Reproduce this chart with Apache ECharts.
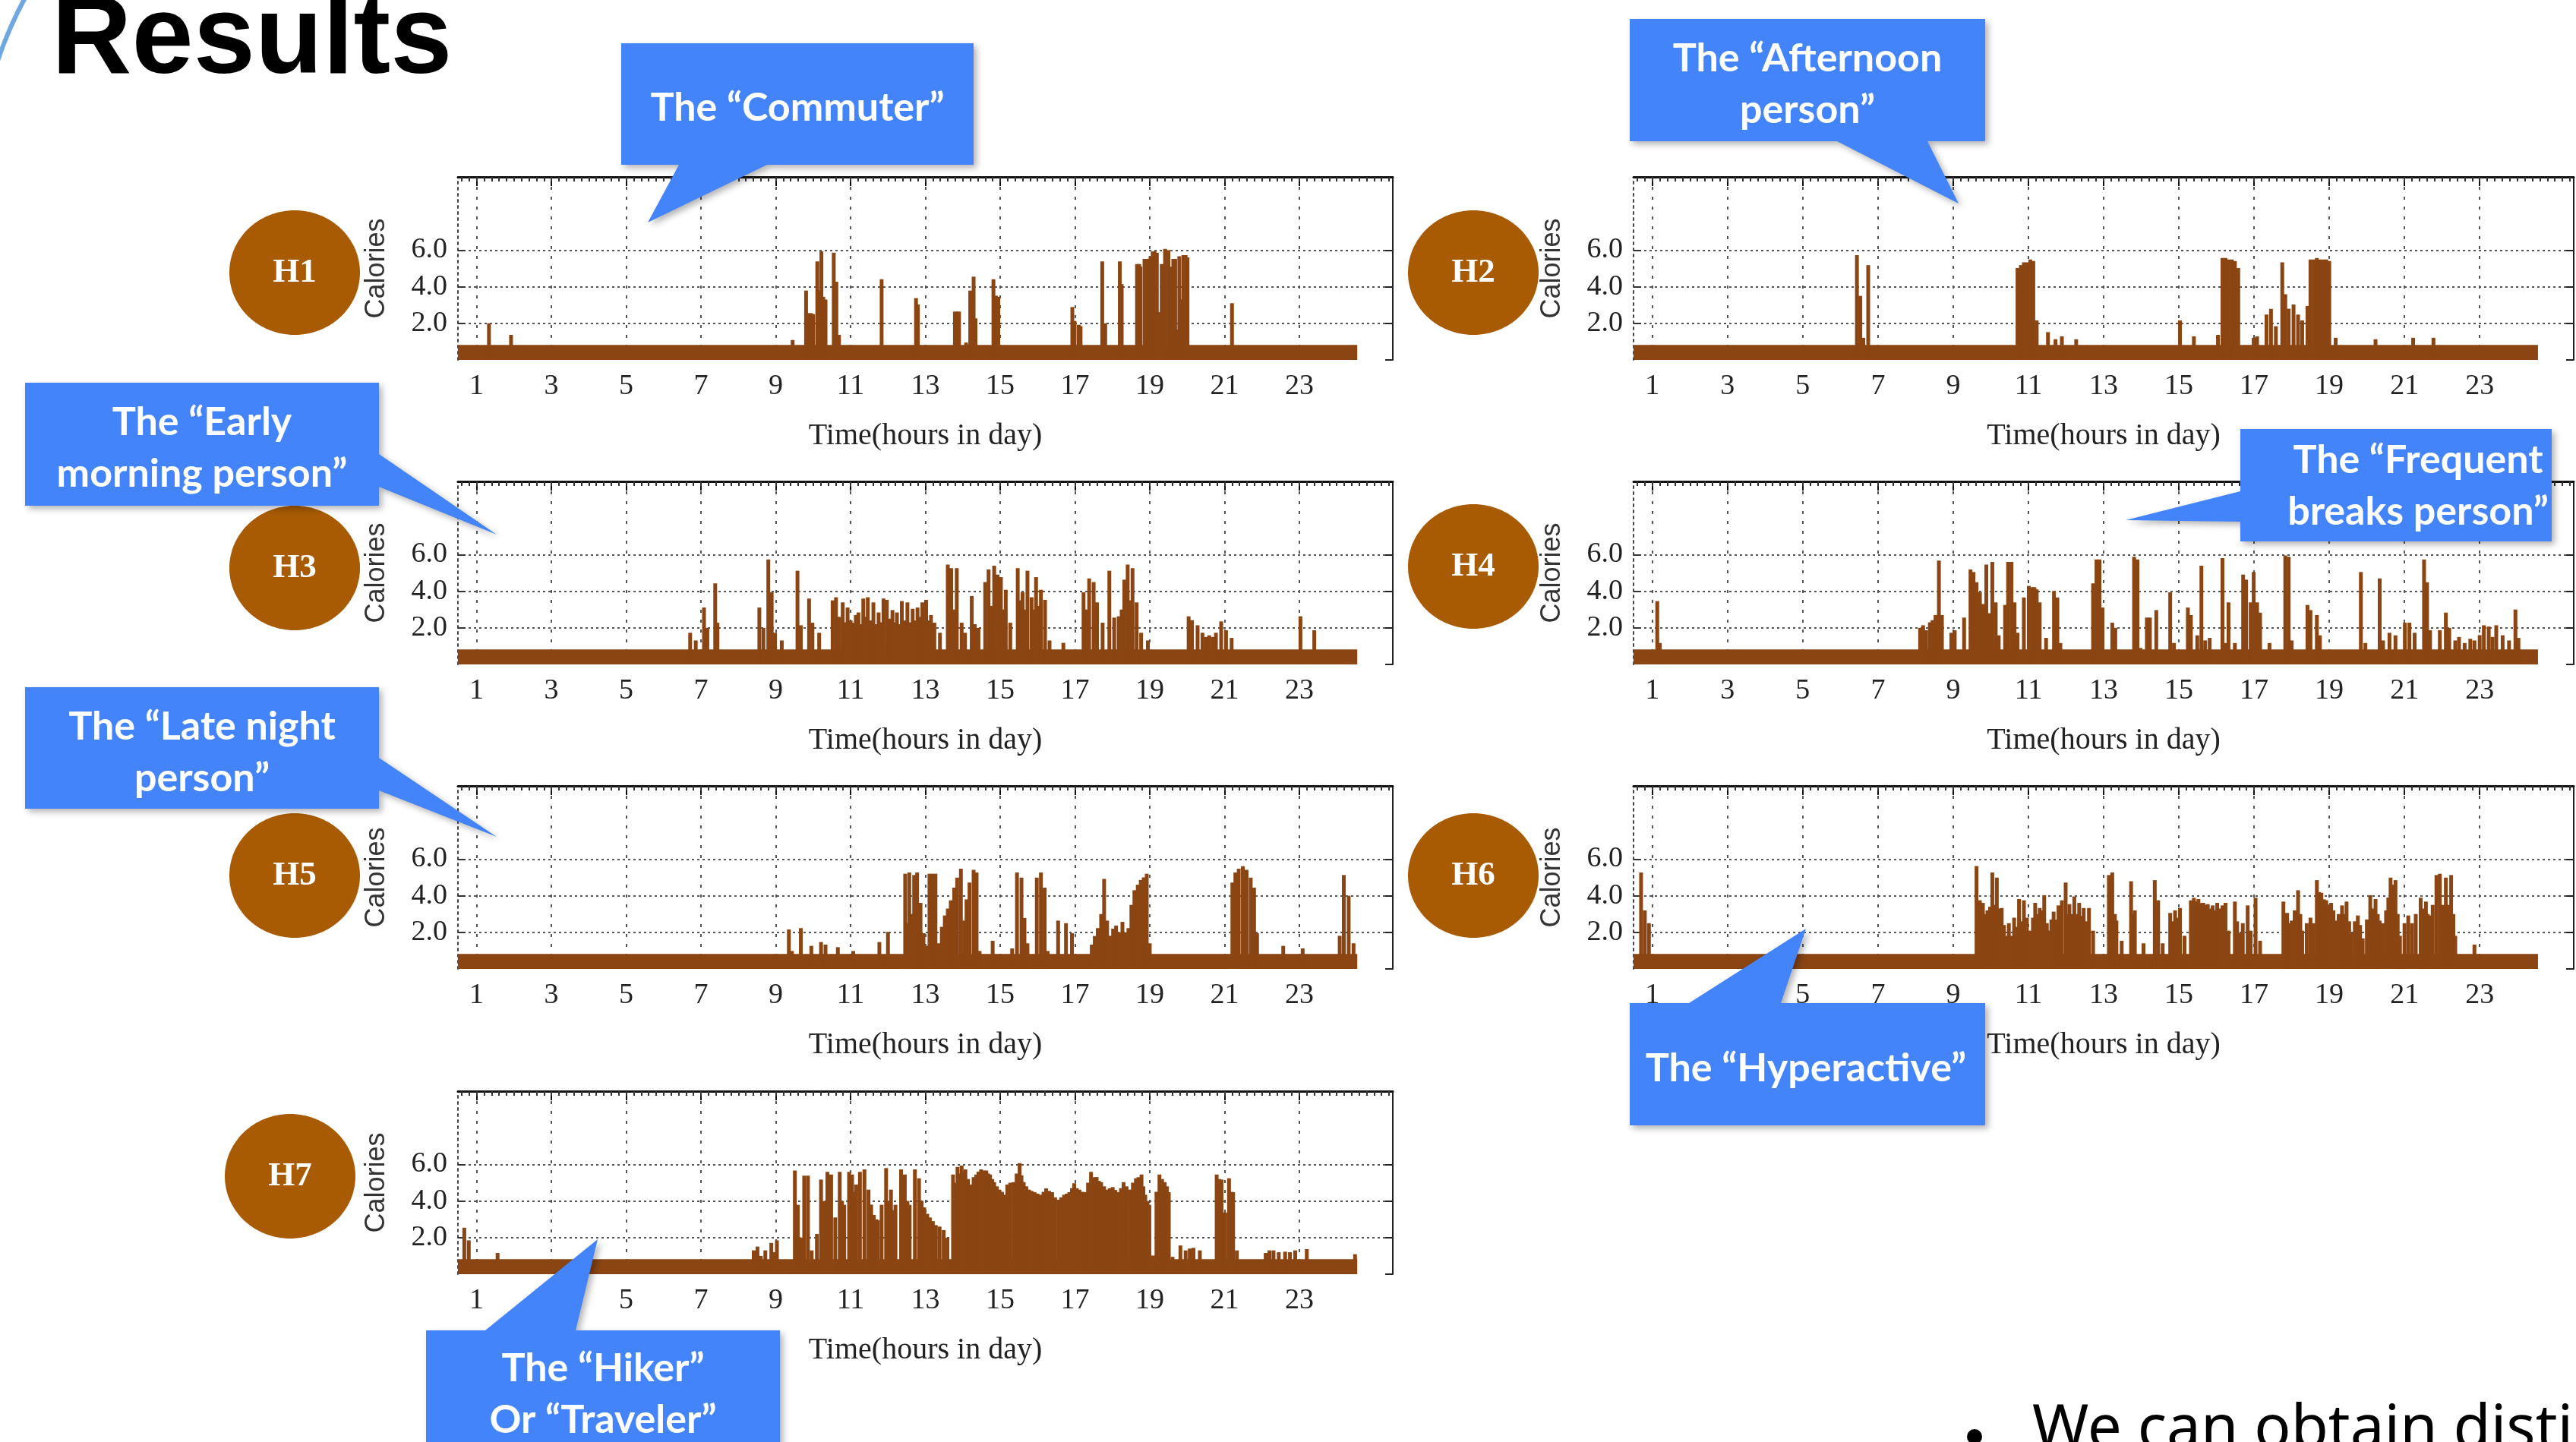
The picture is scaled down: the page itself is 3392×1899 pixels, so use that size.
<!DOCTYPE html>
<html><head><meta charset="utf-8">
<script src="https://cdn.jsdelivr.net/npm/echarts@6/dist/echarts.min.js"></script>
<style>html,body{margin:0;padding:0;background:#fff}#c{width:3392px;height:1899px}</style>
</head><body><div id="c"></div>
<script>
// ---------- data ----------
const hourTicks = [1,3,5,7,9,11,13,15,17,19,21,23];
const calTicks = [2,4,6];
const rightTicks = [0,2,4,6];
const baseLevel = 0.82;
const dayStart = 0.5, dayEnd = 24.55;
const panelNames = ['H1','H2','H3','H4','H5','H6','H7'];
const xTitle = 'Time(hours in day)';
const yTitle = 'Calories';

const h1Data = [[1.33,2.0],[1.92,1.37],[9.45,1.09],
[9.81,3.79],[9.85,2.55],[9.9,2.55],[9.95,2.55],[10.0,2.5],
[10.11,5.38],[10.16,3.8],[10.22,5.93],[10.27,3.45],[10.33,3.3],
[10.55,5.86],[10.62,4.27],[10.69,1.37],[11.83,4.41],[12.75,3.38],[12.8,3.03],
[13.79,2.64],[13.85,2.64],[13.9,2.64],[14.09,0.95],[14.2,3.79],[14.29,4.55],[14.34,2.27],
[14.82,4.41],[14.89,3.51],[14.95,3.45],[16.93,2.89],[16.99,2.13],[17.1,1.92],[17.15,1.85],
[17.73,5.38],[17.81,2.0],[18.2,5.38],[18.25,4.14],[18.66,5.24],[18.72,5.24],[18.75,5.1],
[18.86,5.52],[18.94,5.52],[19.02,5.66],[19.08,5.93],[19.13,5.93],[19.19,5.86],[19.24,2.61],
[19.32,5.24],[19.41,6.07],[19.5,6.0],[19.57,5.1],[19.63,5.52],[19.68,5.52],[19.74,1.65],
[19.79,5.66],[19.85,3.31],[19.9,5.73],[19.96,5.73],[20.01,5.6],[21.2,3.1]];

const h2Data = [[6.44,5.73],[6.53,3.5],[6.61,1.21],[6.74,5.18],
[10.71,5.02],[10.8,5.18],[10.88,5.33],[10.96,5.33],[11.05,5.49],[11.13,5.4],[11.22,2.16],
[11.52,1.52],[11.72,1.13],[11.89,1.29],[12.27,1.13],[15.03,2.16],[15.4,1.29],
[16.04,1.37],[16.16,5.57],[16.24,5.57],[16.32,5.49],[16.41,5.49],[16.49,5.4],[16.58,5.02],
[16.99,1.21],[17.08,1.29],[17.33,2.48],[17.45,2.79],[17.58,1.84],[17.75,5.33],[17.83,3.59],
[17.92,2.8],[18.05,3.03],[18.17,2.48],[18.28,2.16],[18.42,2.95],
[18.5,5.49],[18.59,5.49],[18.67,5.57],[18.75,5.49],[18.84,5.49],[18.92,5.49],[19.0,5.4],
[19.17,1.21],[20.23,1.13],[21.23,1.21],[21.77,1.21]];

const h3Data = [[6.71,1.73],[6.86,1.31],[7.08,3.11],[7.17,2.0],[7.38,4.43],[7.44,2.28],
[8.56,3.11],[8.67,2.0],[8.8,5.74],[8.89,3.94],[8.98,1.73],[9.16,1.31],
[9.58,5.12],[9.67,2.14],[9.89,3.6],[9.98,2.28],[10.16,1.73],
[10.52,3.5],[10.61,3.67],[10.7,2.6],[10.79,3.39],[10.86,2.3],[10.92,3.11],[11.0,2.4],[11.07,2.28],
[11.14,2.7],[11.21,2.84],[11.28,2.2],[11.34,3.6],[11.4,2.6],[11.46,3.67],[11.54,2.4],[11.61,3.39],
[11.68,2.2],[11.75,2.84],[11.82,2.3],[11.88,3.6],[11.97,3.53],[12.04,2.5],[12.12,2.97],[12.18,2.3],
[12.24,2.84],[12.3,2.2],[12.37,3.46],[12.44,2.4],[12.52,3.39],[12.59,2.3],[12.66,3.04],[12.72,2.4],
[12.79,3.11],[12.86,2.6],[12.92,3.39],[13.02,3.53],[13.09,2.4],[13.15,2.7],[13.24,2.28],[13.39,1.73],
[13.6,5.46],[13.69,5.26],[13.76,3.0],[13.84,5.26],[13.97,2.28],[14.06,1.73],
[14.24,3.74],[14.32,2.2],[14.42,2.0],[14.6,4.5],[14.69,5.19],[14.76,3.2],[14.84,5.39],[14.93,4.91],
[15.02,4.77],[15.08,3.0],[15.15,4.08],[15.27,2.28],[15.47,5.26],[15.54,3.5],[15.6,3.94],[15.66,3.0],
[15.73,5.12],[15.84,3.67],[15.9,3.0],[15.96,4.77],[16.03,3.2],[16.09,4.08],[16.2,3.53],[16.32,1.31],
[16.69,1.18],[17.23,3.94],[17.3,3.0],[17.38,4.7],[17.5,4.5],[17.59,3.39],[17.74,2.28],[17.92,5.12],
[18.05,2.56],[18.17,2.63],[18.25,3.0],[18.32,4.63],[18.41,5.46],[18.48,3.5],[18.54,5.26],[18.65,3.39],
[18.77,1.73],[18.95,1.31],[20.04,2.63],[20.13,2.42],[20.28,2.14],[20.41,1.73],[20.5,1.5],[20.59,1.59],
[20.68,1.5],[20.77,1.73],[20.91,2.35],[21.04,1.87],[21.19,1.45],[23.03,2.63],[23.4,1.87]];

const h4Data = [[1.13,3.46],[1.2,1.17],
[8.12,2.0],[8.2,2.14],[8.28,1.87],[8.38,2.3],[8.45,2.42],[8.53,2.7],[8.62,5.67],[8.7,2.7],[8.95,1.73],
[9.04,1.87],[9.29,2.56],[9.46,5.19],[9.54,5.05],[9.62,4.49],[9.71,3.94],[9.79,3.3],[9.88,5.46],[9.96,2.8],
[10.04,5.6],[10.13,3.39],[10.21,1.59],[10.38,3.25],[10.46,5.6],[10.55,5.6],[10.63,3.39],[10.71,1.73],
[10.88,3.66],[11.01,4.29],[11.1,4.22],[11.16,4.22],[11.22,4.1],[11.3,3.39],[11.47,1.45],[11.68,4.01],
[11.77,3.66],[11.85,1.17],[12.72,4.43],[12.81,5.74],[12.89,5.74],[12.97,3.11],[13.23,2.28],[13.31,2.0],
[13.81,5.88],[13.9,5.74],[13.98,0.9],[14.15,2.56],[14.23,2.56],[14.4,2.97],[14.77,3.94],[14.87,1.17],
[15.24,3.11],[15.32,2.7],[15.49,1.59],[15.6,5.39],[15.7,1.31],[15.82,1.45],
[16.16,5.81],[16.24,1.17],[16.32,3.39],[16.49,1.17],[16.71,4.91],[16.79,4.63],[16.91,3.39],[16.99,5.05],
[17.08,3.39],[17.16,2.83],[17.41,1.17],[17.83,5.95],[17.92,5.88],[18.0,1.31],[18.42,3.25],[18.5,2.97],
[18.67,2.7],[18.75,1.59],[19.84,5.05],[19.96,1.17],[20.34,4.7],[20.43,1.31],[20.6,1.73],[20.76,1.59],
[21.01,2.28],[21.13,2.28],[21.27,1.73],[21.52,5.74],[21.6,4.49],[21.68,1.87],[21.94,1.87],[22.1,2.83],
[22.19,2.0],[22.35,1.31],[22.45,1.5],[22.6,1.17],[22.75,1.4],[22.86,1.31],[23.0,1.6],[23.11,2.14],
[23.24,2.07],[23.34,1.5],[23.44,2.14],[23.61,1.59],[23.78,1.31],[23.95,3.0],[24.03,1.45]];

const h5Data = [[9.35,2.16],[9.43,0.98],[9.67,2.23],[9.95,1.26],[10.21,1.47],[10.33,1.33],[10.66,1.19],
[11.07,0.98],[11.77,1.47],[12.0,2.02],
[12.46,5.2],[12.52,2.5],[12.57,5.27],[12.63,3.0],[12.7,5.13],[12.78,5.27],[12.87,3.61],[12.95,1.95],
[13.03,1.26],[13.11,5.2],[13.19,5.2],[13.27,5.2],[13.36,1.4],[13.44,2.3],[13.52,2.92],[13.6,3.3],
[13.68,3.75],[13.77,4.44],[13.85,4.99],[13.95,5.48],[14.04,2.64],[14.1,3.8],[14.18,4.72],[14.29,5.41],
[14.37,5.27],[14.45,0.98],[14.8,1.54],[15.32,1.12],[15.45,5.27],[15.57,4.99],[15.65,2.78],[15.73,1.4],
[15.98,4.99],[16.09,5.27],[16.19,4.44],[16.27,0.98],[16.55,2.64],[16.76,2.5],[16.92,1.95],
[17.45,1.33],[17.53,1.8],[17.61,2.23],[17.7,3.0],[17.78,4.92],[17.86,2.64],[17.94,1.81],[18.02,2.2],
[18.1,2.37],[18.18,2.0],[18.27,2.57],[18.35,2.0],[18.43,2.23],[18.51,3.5],[18.59,4.3],[18.68,4.6],
[18.76,4.86],[18.84,5.0],[18.92,5.2],[19.0,1.4],
[21.21,4.72],[21.29,5.27],[21.38,5.48],[21.49,5.61],[21.59,5.41],[21.7,4.99],[21.79,4.44],[21.87,1.95],
[22.57,1.26],[23.09,1.12],[24.08,1.81],[24.19,5.13],[24.32,4.0],[24.45,1.4]];

const h6Data = [[0.7,5.27],[0.8,3.2],[0.91,2.5],
[9.62,5.62],[9.71,3.75],[9.79,3.61],[9.85,3.0],[9.91,3.2],[9.98,3.4],[10.04,5.27],[10.1,3.5],[10.16,4.99],
[10.22,3.3],[10.29,3.33],[10.35,2.4],[10.41,1.81],[10.48,2.5],[10.55,1.81],[10.62,2.8],[10.68,2.3],
[10.75,3.82],[10.82,2.6],[10.88,3.75],[10.96,2.8],[11.05,2.09],[11.12,2.8],[11.18,3.61],[11.24,3.0],
[11.3,3.33],[11.36,3.2],[11.42,4.03],[11.49,2.5],[11.55,2.09],[11.61,2.7],[11.67,3.13],[11.74,2.7],
[11.8,3.47],[11.89,3.75],[11.99,4.72],[12.04,3.0],[12.09,3.54],[12.16,3.0],[12.22,3.96],[12.28,3.0],
[12.35,3.61],[12.41,2.9],[12.47,3.33],[12.54,2.6],[12.61,3.33],[12.72,2.09],
[13.14,5.13],[13.23,5.27],[13.3,3.0],[13.34,2.64],[13.48,1.54],[13.73,4.79],[13.78,3.0],[13.83,3.2],
[14.06,1.4],[14.36,4.85],[14.45,3.75],[14.57,1.4],[14.77,3.06],[14.84,2.6],[14.9,3.2],[14.97,2.8],
[15.03,3.33],[15.15,1.81],[15.32,3.75],[15.4,3.89],[15.46,3.7],[15.52,3.82],[15.58,3.6],[15.65,3.61],
[15.71,3.5],[15.77,3.54],[15.84,3.3],[15.9,3.47],[15.96,3.2],[16.02,3.61],[16.09,3.3],[16.16,3.47],
[16.24,3.61],[16.32,2.09],[16.49,3.68],[16.55,2.6],[16.61,1.95],[16.7,2.5],[16.83,3.47],[16.91,2.09],
[17.04,3.89],[17.16,1.54],[17.78,3.68],[17.83,3.0],[17.88,3.06],[17.94,2.5],[18.0,2.64],[18.08,3.2],
[18.17,4.3],[18.23,3.0],[18.28,2.09],[18.4,2.5],[18.5,2.8],[18.58,2.5],
[18.67,4.85],[18.73,4.2],[18.79,4.16],[18.86,3.8],[18.92,3.75],[18.98,3.5],[19.05,3.61],[19.11,3.2],
[19.17,2.64],[19.25,3.0],[19.34,3.47],[19.4,3.0],[19.46,3.68],[19.53,2.6],[19.59,1.95],[19.68,2.6],
[19.76,2.92],[19.82,2.4],[19.89,1.67],[20.0,2.7],[20.09,4.03],[20.16,3.3],[20.23,3.82],[20.29,3.0],
[20.34,2.64],[20.42,2.5],[20.51,3.2],[20.57,3.9],[20.63,4.99],[20.7,4.6],[20.76,4.85],[20.82,3.0],
[20.88,1.81],[21.0,2.5],[21.1,2.92],[21.2,2.5],[21.3,3.0],[21.43,3.89],[21.5,3.3],[21.57,3.68],
[21.62,3.0],[21.68,2.92],[21.75,3.5],[21.85,5.13],[21.94,5.2],[22.02,3.5],[22.1,4.99],[22.17,3.5],
[22.24,5.13],[22.3,3.0],[22.35,1.81],[22.86,1.33]];

const h7Data = [[0.67,2.54],[0.79,1.85],[1.56,1.16],
[8.41,1.3],[8.51,1.51],[8.6,1.0],[8.72,1.3],[8.88,1.71],[8.95,1.2],[9.03,1.85],
[9.51,5.66],[9.59,3.79],[9.68,2.0],[9.76,5.38],[9.86,5.38],[9.96,1.3],[10.1,2.2],[10.21,5.17],[10.3,4.0],
[10.38,5.59],[10.48,5.45],[10.59,3.1],[10.71,5.59],[10.77,4.0],[10.83,3.79],[10.96,5.59],[11.04,5.45],
[11.1,4.5],[11.15,4.9],[11.25,5.59],[11.37,5.73],[11.48,4.62],[11.55,3.8],[11.62,3.24],[11.68,3.0],
[11.73,2.96],[11.83,3.79],[11.95,5.8],[12.02,4.0],[12.08,4.62],[12.14,3.5],[12.2,3.79],[12.35,5.73],
[12.45,5.45],[12.52,4.0],[12.58,3.79],[12.72,5.73],[12.83,5.24],[12.9,4.0],[12.97,3.65],[13.05,3.3],
[13.12,3.1],[13.2,2.9],[13.28,2.68],[13.38,2.6],[13.49,2.41],[13.59,1.99],
[13.74,5.45],[13.8,5.0],[13.86,5.86],[13.92,5.5],[13.97,5.93],[14.02,5.6],[14.07,5.73],[14.14,5.2],
[14.22,4.9],[14.29,5.3],[14.36,5.45],[14.42,5.6],[14.49,5.73],[14.56,5.66],[14.63,5.66],[14.68,5.5],
[14.73,5.45],[14.79,5.2],[14.84,5.03],[14.91,4.8],[14.98,4.62],[15.05,4.5],[15.11,4.34],[15.19,4.9],
[15.27,5.0],[15.36,5.03],[15.44,5.5],[15.52,6.07],[15.57,5.4],[15.63,5.03],[15.7,4.8],[15.77,4.62],
[15.84,4.55],[15.92,4.48],[16.0,4.4],[16.08,4.34],[16.16,4.5],[16.23,4.69],[16.31,4.55],[16.39,4.48],
[16.47,4.2],[16.56,4.07],[16.63,4.2],[16.71,4.34],[16.78,4.4],[16.85,4.48],[16.92,4.7],[16.98,4.97],
[17.05,4.7],[17.12,4.62],[17.2,4.5],[17.27,4.48],[17.35,5.0],[17.43,5.59],[17.5,5.3],[17.58,5.31],
[17.64,5.1],[17.7,5.03],[17.78,4.8],[17.85,4.62],[17.93,4.7],[18.01,4.76],[18.08,4.6],[18.16,4.48],
[18.23,4.7],[18.3,5.03],[18.38,4.8],[18.47,4.62],[18.55,5.0],[18.63,5.24],[18.7,5.3],[18.78,5.45],
[18.83,4.8],[18.88,4.34],[18.94,4.0],[18.99,3.79],[19.09,1.02],[19.18,4.5],[19.26,5.45],[19.33,5.2],
[19.4,5.03],[19.46,4.8],[19.51,4.48],[19.61,0.95],[19.82,1.57],[19.96,1.3],[20.07,1.4],[20.17,1.44],
[20.34,1.3],[20.79,5.45],[20.86,5.2],[20.92,5.17],[21.02,3.37],[21.12,5.24],[21.18,4.5],[21.23,4.48],
[21.33,1.3],[22.1,1.16],[22.2,1.3],[22.31,1.3],[22.45,1.2],[22.62,1.23],[22.75,1.2],[22.89,1.3],
[23.2,1.37],[24.49,1.09]];

const panelData = [h1Data,h2Data,h3Data,h4Data,h5Data,h6Data,h7Data];

// ---------- layout & styles ----------
const BROWN = '#8A4513', CIRCLE = '#A85B03', BLUE = '#4484FB';
const layout = [
  {left:603, top:233, width:1231, cx:388, cy:359},
  {left:2151, top:233, width:1238, cx:1940, cy:359},
  {left:603, top:634, width:1231, cx:388, cy:748},
  {left:2151, top:634, width:1238, cx:1940, cy:746},
  {left:603, top:1035, width:1231, cx:388, cy:1153},
  {left:2151, top:1035, width:1238, cx:1940, cy:1153},
  {left:603, top:1437, width:1231, cx:382, cy:1549}
];
const PLOT_H = 241;
const minorTicks = [];
for (let i = 3; i <= 127; i++) minorTicks.push(+(i * 0.2).toFixed(1));

const serif = 'Liberation Serif';
const grids = [], xAxes = [], yAxes = [], series = [];
layout.forEach((p, i) => {
  grids.push({left:p.left, top:p.top, width:p.width, height:PLOT_H, containLabel:false, outerBoundsMode:'none'});
  const xi = xAxes.length;
  xAxes.push({gridIndex:i, type:'value', min:0.5, max:25.5, position:'bottom',
    axisLine:{show:false, onZero:false},
    axisTick:{show:false, customValues:hourTicks},
    axisLabel:{customValues:hourTicks, margin:16, fontFamily:serif, fontSize:38, color:'#222'},
    splitLine:{show:true, lineStyle:{type:[4,9], color:'#555', width:2}},
    name:xTitle, nameLocation:'middle', nameGap:80,
    nameTextStyle:{fontFamily:serif, fontSize:40, color:'#222'}});
  xAxes.push({gridIndex:i, type:'value', min:0.5, max:25.5, position:'top',
    axisLine:{show:true, onZero:false, lineStyle:{color:'#111', width:3}},
    axisTick:{show:true, inside:true, length:12, customValues:hourTicks, lineStyle:{color:'#111', width:2}},
    axisLabel:{show:false}, splitLine:{show:false}});
  xAxes.push({gridIndex:i, type:'value', min:0.5, max:25.5, position:'top',
    axisLine:{show:false, onZero:false},
    axisTick:{show:true, inside:true, length:6, customValues:minorTicks, lineStyle:{color:'#333', width:2}},
    axisLabel:{show:false}, splitLine:{show:false}});
  const yi = yAxes.length;
  yAxes.push({gridIndex:i, type:'value', min:0, max:10, position:'left',
    axisLine:{show:true, onZero:false, lineStyle:{type:[3,5], color:'#444', width:2}},
    axisTick:{show:true, inside:true, length:10, customValues:calTicks, lineStyle:{color:'#333', width:2}},
    axisLabel:{customValues:calTicks, formatter:v => Number(v).toFixed(1), margin:14, fontFamily:serif, fontSize:38, color:'#222'},
    splitLine:{show:true, lineStyle:{type:[3,4], color:'#555', width:2}},
    name:yTitle, nameLocation:'middle', nameGap:89,
    nameTextStyle:{fontFamily:'Liberation Sans', fontSize:36, color:'#333'}});
  yAxes.push({gridIndex:i, type:'value', min:0, max:10, position:'right',
    axisLine:{show:true, onZero:false, lineStyle:{color:'#222', width:2}},
    axisTick:{show:true, inside:true, length:10, customValues:rightTicks, lineStyle:{color:'#222', width:2}},
    axisLabel:{show:false}, splitLine:{show:false}});
  series.push({type:'line', xAxisIndex:xi, yAxisIndex:yi, data:[[dayStart, baseLevel],[dayEnd, baseLevel]],
    symbol:'none', lineStyle:{width:0}, areaStyle:{color:BROWN, opacity:1}, z:2, silent:true});
  series.push({type:'bar', xAxisIndex:xi, yAxisIndex:yi, data:panelData[i], barWidth:5,
    itemStyle:{color:BROWN}, z:3, silent:true});
});

// ---------- annotations ----------
const callouts = [
 {pts:[[818,57],[1282,57],[1282,217],[1010,217],[853,293],[894,217],[818,217]], text:'The “Commuter”', x:1050, y:142},
 {pts:[[2146,25],[2614,25],[2614,186],[2538,186],[2579,268],[2419,186],[2146,186]], text:'The “Afternoon\nperson”', x:2380, y:111},
 {pts:[[33,504],[499,504],[499,598],[654,704],[499,641],[499,666],[33,666]], text:'The “Early\nmorning person”', x:266, y:590},
 {pts:[[2950,565],[3360,565],[3360,713],[2950,713],[2950,687],[2799,685],[2950,647]], text:'The “Frequent\nbreaks person”', x:3184, y:640},
 {pts:[[33,905],[499,905],[499,998],[654,1102],[499,1041],[499,1065],[33,1065]], text:'The “Late night\nperson”', x:266, y:991},
 {pts:[[2146,1321],[2224,1321],[2378,1223],[2345,1321],[2614,1321],[2614,1482],[2146,1482]], text:'The “Hyperactive”', x:2378, y:1407},
 {pts:[[561,1752],[639,1752],[787,1632],[758,1752],[1027,1752],[1027,1930],[561,1930]], text:'The “Hiker”\nOr “Traveler”', x:794, y:1836}
];

const graphics = [];
graphics.push({type:'arc', z:100, shape:{cx:500, cy:250, r:531, startAngle:3.40, endAngle:3.75, clockwise:true},
  style:{stroke:'#6FA8E0', lineWidth:6, fill:null}});
graphics.push({type:'text', z:100, x:68, y:56,
  style:{text:'Results', font:'bold 146px "Liberation Sans"', fill:'#000', align:'left', verticalAlign:'middle', textAlign:'left', textVerticalAlign:'middle'}});
layout.forEach((p, i) => {
  graphics.push({type:'ellipse', z:50, shape:{cx:p.cx, cy:p.cy, rx:86, ry:82}, style:{fill:CIRCLE}});
  graphics.push({type:'text', z:51, x:p.cx, y:p.cy,
    style:{text:panelNames[i], font:'bold 45px "Liberation Serif"', fill:'#fff', align:'center', verticalAlign:'middle', textAlign:'center', textVerticalAlign:'middle'}});
});
callouts.forEach(c => {
  graphics.push({type:'polygon', z:100, shape:{points:c.pts},
    style:{fill:BLUE, shadowBlur:8, shadowOffsetX:4, shadowOffsetY:4, shadowColor:'rgba(0,0,0,0.3)'}});
  graphics.push({type:'text', z:101, x:c.x, y:c.y,
    style:{text:c.text, font:'bold 52px Lato', lineHeight:68, fill:'#fff', align:'center', verticalAlign:'middle', textAlign:'center', textVerticalAlign:'middle'}});
});
graphics.push({type:'circle', z:100, shape:{cx:2600, cy:1892, r:10}, style:{fill:'#000'}});
graphics.push({type:'text', z:100, x:2676, y:1884,
  style:{text:'We can obtain distinct', font:'80px "Noto Sans"', fill:'#000', align:'left', verticalAlign:'middle', textAlign:'left', textVerticalAlign:'middle'}});

const chart = echarts.init(document.getElementById('c'), null, {renderer:'canvas'});
chart.setOption({
  animation:false,
  backgroundColor:'#fff',
  grid:grids, xAxis:xAxes, yAxis:yAxes, series:series,
  graphic:{elements:graphics}
});
</script>
</body></html>
